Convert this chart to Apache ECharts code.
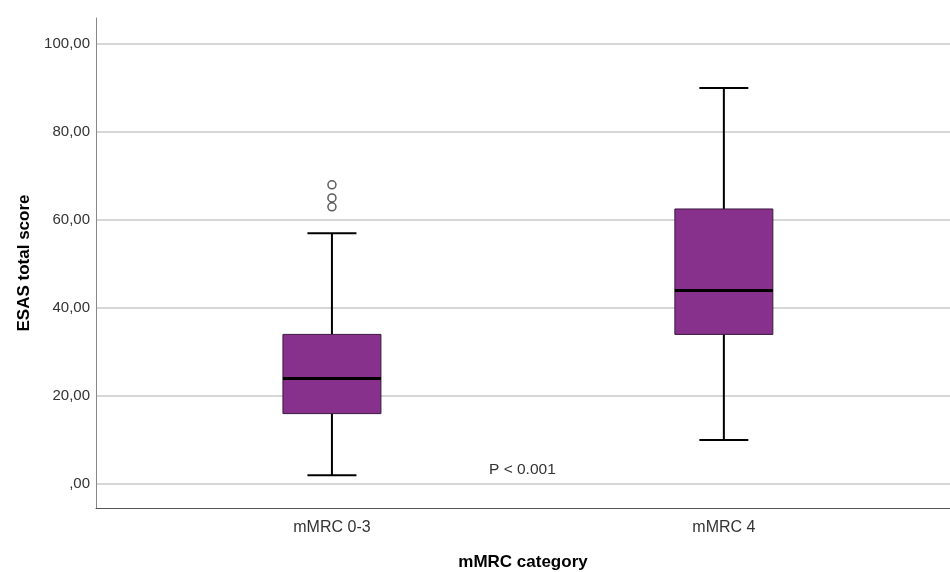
<!DOCTYPE html>
<html>
<head>
<meta charset="utf-8">
<script src="https://cdn.jsdelivr.net/npm/echarts@6/dist/echarts.min.js"></script>
<style>html,body{margin:0;padding:0;background:#fff;}#c{width:950px;height:572px;}</style>
</head>
<body>
<div id="c"></div>
<script>
// Data
var categories = ['mMRC 0-3', 'mMRC 4'];
// [low whisker, Q1, median, Q3, high whisker]
var boxGroup1 = [2, 16, 24, 34, 57];
var boxGroup2 = [10, 34, 44, 62.5, 90];
var outliersGroup1 = [68, 65, 63];
var yTicks = [0, 20, 40, 60, 80, 100];
var pValueText = 'P < 0.001';

var boxes = [boxGroup1, boxGroup2];
var boxData = boxes.map(function (b, i) { return [i + 1].concat(b); });
var outlierData = outliersGroup1.map(function (v) { return [1, v]; });

var chart = echarts.init(document.getElementById('c'));
var font = '"Liberation Sans", Arial, sans-serif';

chart.setOption({
  backgroundColor: '#fff',
  animation: false,
  grid: { left: 96, right: 0, top: 18, bottom: 64, containLabel: false, outerBoundsMode: 'none' },
  xAxis: {
    type: 'value',
    min: 0.398, max: 2.577,
    name: 'mMRC category',
    nameLocation: 'middle',
    nameGap: 46,
    nameTextStyle: { fontFamily: font, fontWeight: 'bold', fontSize: 17, color: '#000' },
    axisLine: { show: true, onZero: false, lineStyle: { color: '#555', width: 1 } },
    axisTick: { show: false, customValues: [1, 2] },
    splitLine: { show: false },
    axisLabel: {
      customValues: [1, 2],
      margin: 12,
      fontFamily: font, fontSize: 16, color: '#333',
      formatter: function (v) { return categories[Math.round(v) - 1] || ''; }
    }
  },
  yAxis: {
    type: 'value',
    min: -5.45, max: 105.9,
    name: 'ESAS total score',
    nameLocation: 'middle',
    nameGap: 63,
    nameRotate: 90,
    nameTextStyle: { fontFamily: font, fontWeight: 'bold', fontSize: 17, color: '#000' },
    axisLine: { show: true, onZero: false, lineStyle: { color: '#888', width: 1 } },
    axisTick: { show: false, customValues: yTicks },
    splitLine: { show: true, lineStyle: { color: '#c8c8c8', width: 1.5 } },
    axisLabel: {
      customValues: yTicks,
      margin: 6,
      fontFamily: font, fontSize: 15, color: '#333',
      formatter: function (v) { return v === 0 ? ',00' : v.toFixed(2).replace('.', ','); }
    }
  },
  graphic: [{
    type: 'text',
    left: 489, top: 462,
    style: { text: pValueText, fontFamily: font, fontSize: 15.5, fill: '#333' }
  }],
  series: [{
    type: 'custom',
    data: boxData,
    renderItem: function (params, api) {
      var x = api.value(0);
      var low = api.coord([x, api.value(1)]);
      var q1 = api.coord([x, api.value(2)]);
      var med = api.coord([x, api.value(3)]);
      var q3 = api.coord([x, api.value(4)]);
      var high = api.coord([x, api.value(5)]);
      var w = api.size([0.25, 0])[0];
      var cw = api.size([0.125, 0])[0];
      var cx = low[0];
      var ls = { stroke: '#000', lineWidth: 2 };
      return {
        type: 'group',
        children: [
          { type: 'line', shape: { x1: cx, y1: high[1], x2: cx, y2: q3[1] }, style: ls },
          { type: 'line', shape: { x1: cx, y1: q1[1], x2: cx, y2: low[1] }, style: ls },
          { type: 'line', shape: { x1: cx - cw / 2, y1: high[1], x2: cx + cw / 2, y2: high[1] }, style: ls },
          { type: 'line', shape: { x1: cx - cw / 2, y1: low[1], x2: cx + cw / 2, y2: low[1] }, style: ls },
          { type: 'rect', shape: { x: cx - w / 2, y: q3[1], width: w, height: q1[1] - q3[1] },
            style: { fill: '#87318D', stroke: '#3c1840', lineWidth: 1 } },
          { type: 'line', shape: { x1: cx - w / 2, y1: med[1], x2: cx + w / 2, y2: med[1] },
            style: { stroke: '#000', lineWidth: 3 } }
        ]
      };
    }
  }, {
    type: 'scatter',
    data: outlierData,
    symbol: 'circle',
    symbolSize: 8,
    itemStyle: { color: '#fff', borderColor: '#333', borderWidth: 1.5 }
  }]
});
</script>
</body>
</html>
